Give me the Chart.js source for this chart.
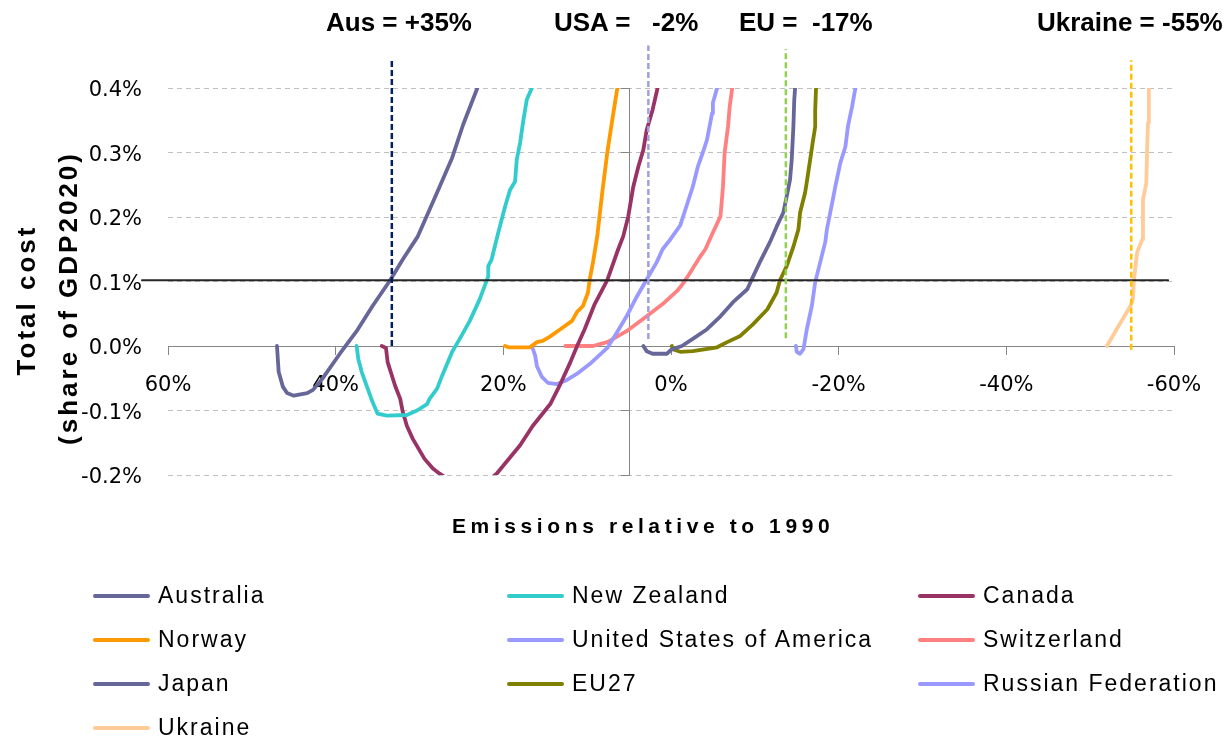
<!DOCTYPE html>
<html>
<head>
<meta charset="utf-8">
<script src="https://cdn.jsdelivr.net/npm/chart.js@4.4.0/dist/chart.umd.min.js"></script>
<style>
  body { margin: 0; background: #fff; }
  #wrap { position: relative; width: 1229px; height: 741px; overflow: hidden; }
  #wrap canvas { position: absolute; left: 0; top: 0; }
  .note { position: absolute; top: 9px; font: bold 26px/26px 'Liberation Sans', Arial, sans-serif; white-space: pre; color: #000; }
  .ytitle { position: absolute; font: bold 26px/26px 'Liberation Sans', Arial, sans-serif; letter-spacing: 3px;
            white-space: nowrap; transform: translate(-50%, -50%) rotate(-90deg); color: #000; }
  .xtitle { position: absolute; left: 452px; top: 515px; font: bold 21px/21px 'Liberation Sans', Arial, sans-serif;
            letter-spacing: 4.6px; white-space: nowrap; color: #000; }
  .lg-line { position: absolute; height: 4px; width: 57px; border-radius: 2px; }
  .lg-text { position: absolute; font: 23px/23px 'Liberation Sans', Arial, sans-serif; letter-spacing: 2px; white-space: nowrap; color: #000; }
</style>
</head>
<body>
<div id="wrap">
  <canvas id="chart" width="1229" height="741"></canvas>
  <div class="note" style="left:326px">Aus = +35%</div>
  <div class="note" style="left:554px">USA =   -2%</div>
  <div class="note" style="left:739px">EU =  -17%</div>
  <div class="note" style="left:1037px">Ukraine = -55%</div>
  <div class="ytitle" style="left:26px; top:300px">Total cost</div>
  <div class="ytitle" style="left:68px; top:298px">(share of GDP2020)</div>
  <div class="xtitle">Emissions relative to 1990</div>
</div>
<script>
// emissions relative to 1990 (%) and total cost (% of GDP 2020)
const australiaX = [47.0, 46.8, 46.3, 45.8, 45.0, 43.4, 42.7, 41.6, 39.5, 37.5, 35.6, 33.5, 32.0, 30.2, 27.9, 26.1, 24.8, 23.1];
const australiaY = [0, -0.040, -0.063, -0.073, -0.077, -0.073, -0.068, -0.051, -0.012, 0.023, 0.062, 0.102, 0.134, 0.170, 0.238, 0.292, 0.343, 0.400];

const newZealandX = [37.5, 37.3, 36.9, 36.3, 35.6, 35.0, 33.9, 31.5, 30.3, 29.1, 28.8, 27.9, 27.3, 26.1, 25.2, 24.0, 22.8, 21.8, 21.8, 21.4, 20.6, 19.8, 19.2, 18.6, 18.4, 18.0, 17.6, 17.2, 16.6];
const newZealandY = [0, -0.020, -0.040, -0.062, -0.087, -0.105, -0.108, -0.107, -0.100, -0.090, -0.082, -0.066, -0.046, -0.009, 0.011, 0.039, 0.073, 0.108, 0.124, 0.134, 0.176, 0.216, 0.242, 0.255, 0.289, 0.315, 0.351, 0.382, 0.400];

const canadaX = [34.5, 34.0, 33.8, 32.9, 32.3, 32.0, 31.5, 30.8, 29.4, 28.4, 27.6, 25.8, 24.0, 22.2, 20.8, 19.6, 18.0, 16.5, 14.4, 13.2, 12.0, 11.2, 10.3, 9.1, 7.6, 6.3, 5.7, 5.1, 4.5, 3.9, 3.3, 2.9, 2.2, 1.6];
const canadaY = [0, -0.003, -0.025, -0.062, -0.082, -0.102, -0.124, -0.144, -0.175, -0.190, -0.198, -0.213, -0.221, -0.213, -0.198, -0.179, -0.154, -0.124, -0.090, -0.059, -0.025, 0, 0.026, 0.065, 0.102, 0.150, 0.170, 0.201, 0.247, 0.278, 0.304, 0.335, 0.366, 0.400];

const norwayX = [19.8, 19.4, 16.8, 16.0, 15.3, 14.4, 13.2, 11.8, 11.2, 10.5, 9.9, 9.7, 9.3, 8.8, 8.2, 7.6, 7.0, 6.4];
const norwayY = [0, -0.002, -0.002, 0.006, 0.008, 0.015, 0.026, 0.039, 0.053, 0.062, 0.083, 0.103, 0.130, 0.170, 0.238, 0.300, 0.351, 0.400];

const usaX = [16.6, 16.2, 16.0, 15.4, 14.7, 13.6, 12.6, 11.2, 9.7, 7.6, 6.4, 5.3, 4.1, 2.9, 1.7, 1.0, 0.1, -1.1, -1.9, -2.6, -3.2, -3.8, -4.3, -4.9, -5.0, -5.5];
const usaY = [0, -0.015, -0.031, -0.048, -0.057, -0.059, -0.054, -0.043, -0.028, -0.003, 0.022, 0.046, 0.076, 0.103, 0.130, 0.150, 0.165, 0.187, 0.219, 0.247, 0.278, 0.300, 0.320, 0.361, 0.377, 0.400];

const switzerlandX = [12.6, 9.3, 8.5, 7.6, 6.9, 5.3, 2.9, 1.0, -0.7, -1.4, -2.3, -3.5, -4.1, -5.0, -5.9, -6.2, -6.4, -6.8, -7.0, -7.3];
const switzerlandY = [0, 0, 0.003, 0.006, 0.011, 0.023, 0.046, 0.065, 0.085, 0.096, 0.114, 0.139, 0.150, 0.176, 0.201, 0.247, 0.300, 0.340, 0.371, 0.400];

const japanX = [3.3, 2.9, 2.2, 0.5, -0.1, -1.3, -2.6, -4.3, -5.9, -7.4, -9.1, -9.8, -10.6, -11.8, -12.6, -13.4, -13.8, -14.2, -14.4, -14.6, -14.7, -14.8];
const japanY = [0, -0.008, -0.012, -0.012, -0.005, 0, 0.011, 0.026, 0.046, 0.068, 0.088, 0.108, 0.130, 0.161, 0.185, 0.207, 0.232, 0.258, 0.289, 0.340, 0.381, 0.400];

const eu27X = [-0.1, -0.2, -1.1, -2.6, -5.5, -6.7, -8.2, -9.8, -11.5, -12.6, -13.0, -13.8, -14.6, -15.2, -15.4, -16.0, -16.3, -16.6, -16.9, -17.2, -17.2, -17.3];
const eu27Y = [0, -0.005, -0.009, -0.008, -0.002, 0.006, 0.015, 0.034, 0.057, 0.083, 0.102, 0.124, 0.154, 0.181, 0.207, 0.238, 0.263, 0.289, 0.315, 0.340, 0.366, 0.400];

const russiaX = [-14.9, -15.0, -15.4, -15.8, -16.2, -16.8, -17.2, -17.8, -18.4, -18.6, -19.3, -19.6, -20.2, -20.8, -21.1, -21.6, -22.0];
const russiaY = [0, -0.009, -0.012, -0.005, 0.026, 0.062, 0.099, 0.130, 0.161, 0.181, 0.227, 0.247, 0.284, 0.309, 0.340, 0.371, 0.400];

const ukraineX = [-52.0, -53.3, -54.8, -55.1, -55.2, -55.6, -56.2, -56.3, -56.7, -56.8, -56.9, -57.0, -57.0];
const ukraineY = [0, 0.029, 0.062, 0.073, 0.100, 0.145, 0.165, 0.227, 0.253, 0.309, 0.346, 0.355, 0.400];

// legend order (3 per row)
const seriesNames = ['Australia', 'New Zealand', 'Canada', 'Norway', 'United States of America',
  'Switzerland', 'Japan', 'EU27', 'Russian Federation', 'Ukraine'];
const seriesX = [australiaX, newZealandX, canadaX, norwayX, usaX, switzerlandX, japanX, eu27X, russiaX, ukraineX];
const seriesY = [australiaY, newZealandY, canadaY, norwayY, usaY, switzerlandY, japanY, eu27Y, russiaY, ukraineY];
const seriesColors = ['#666699', '#33CCCC', '#993366', '#FF9900', '#9999FF',
  '#FF8080', '#666699', '#808000', '#9999FF', '#FFCC99'];

// dashed markers for the pledges
const pledgeNames = ['Aus', 'USA', 'EU', 'Ukraine'];
const pledgeX = [33.3, 2.7, -13.7, -54.9];
const pledgeBottom = [0, 0.011, 0.012, -0.006];
const pledgeTop = [0.443, 0.466, 0.460, 0.443];
const pledgeColors = ['#002060', '#A0A0E0', '#92D050', '#FFC000'];

// 0.1% of GDP threshold line
const thresholdY = 0.102;
const thresholdFrom = 63.1;
const thresholdTo = -59.3;

// tick labels
const xTicks = [60, 40, 20, 0, -20, -40, -60];
const yTicks = [-0.2, -0.1, 0.0, 0.1, 0.2, 0.3, 0.4];

const datasets = [];

pledgeNames.forEach((name, i) => {
  datasets.push({
    label: name,
    data: [{ x: pledgeX[i], y: pledgeBottom[i] }, { x: pledgeX[i], y: pledgeTop[i] }],
    borderColor: pledgeColors[i],
    borderWidth: 2.5,
    borderDash: [6, 3],
    borderCapStyle: 'butt',
    clip: false,
    order: 0
  });
});

datasets.push({
  label: 'threshold',
  data: [{ x: thresholdFrom, y: thresholdY }, { x: thresholdTo, y: thresholdY }],
  borderColor: '#262626',
  borderWidth: 2,
  clip: false,
  order: 1
});

seriesNames.forEach((name, i) => {
  datasets.push({
    label: name,
    data: seriesX[i].map((x, j) => ({ x: x, y: seriesY[i][j] })),
    borderColor: seriesColors[i],
    borderWidth: 3.8,
    order: 2
  });
});

const tickFont = { family: "'DejaVu Sans', sans-serif", size: 21 };

new Chart(document.getElementById('chart'), {
  type: 'line',
  data: { datasets },
  options: {
    responsive: false,
    animation: false,
    devicePixelRatio: 1,
    layout: { padding: { left: 0, right: 55, top: 88, bottom: 266 } },
    plugins: { legend: { display: false }, tooltip: { enabled: false } },
    elements: {
      point: { radius: 0 },
      line: { tension: 0, borderCapStyle: 'round', borderJoinStyle: 'round' }
    },
    scales: {
      x: {
        type: 'linear',
        reverse: true,
        min: -60,
        max: 60,
        position: { y: 0 },
        afterBuildTicks: s => { s.ticks = xTicks.map(v => ({ value: v })); },
        ticks: {
          callback: v => v + '%',
          font: tickFont,
          color: '#000',
          padding: 19,
          maxRotation: 0,
          autoSkip: false
        },
        grid: { drawOnChartArea: false, tickLength: 8, color: '#868686' },
        border: { color: '#868686', width: 1 }
      },
      y: {
        type: 'linear',
        min: -0.2,
        max: 0.4,
        position: 'left',
        afterBuildTicks: s => { s.ticks = yTicks.map(v => ({ value: v })); },
        afterFit: s => { s.width = 168; },
        ticks: {
          callback: v => (Math.abs(v) < 1e-9 ? 0 : v).toFixed(1) + '%',
          font: tickFont,
          color: '#000',
          padding: 26,
          labelOffset: 3
        },
        grid: { drawTicks: false, color: '#c0c0c0', lineWidth: 1 },
        border: { display: false, dash: [5, 4] }
      },
      y2: {
        type: 'linear',
        min: -0.2,
        max: 0.4,
        position: { x: 4.9 },
        afterBuildTicks: s => { s.ticks = yTicks.map(v => ({ value: v })); },
        ticks: { display: false },
        grid: { drawOnChartArea: false, tickLength: 8, color: '#868686' },
        border: { color: '#868686', width: 1 }
      }
    }
  }
});

// legend, three columns like the original
const wrap = document.getElementById('wrap');
const colLeft = [93, 507, 918];
const rowTop = [596, 640, 684, 728];
seriesNames.forEach((name, i) => {
  const col = i % 3;
  const row = Math.floor(i / 3);
  const line = document.createElement('div');
  line.className = 'lg-line';
  line.style.left = colLeft[col] + 'px';
  line.style.top = (rowTop[row] - 2) + 'px';
  line.style.background = seriesColors[i];
  wrap.appendChild(line);
  const text = document.createElement('div');
  text.className = 'lg-text';
  text.style.left = (colLeft[col] + 65) + 'px';
  text.style.top = (rowTop[row] - 12) + 'px';
  text.textContent = name;
  wrap.appendChild(text);
});
</script>
</body>
</html>
